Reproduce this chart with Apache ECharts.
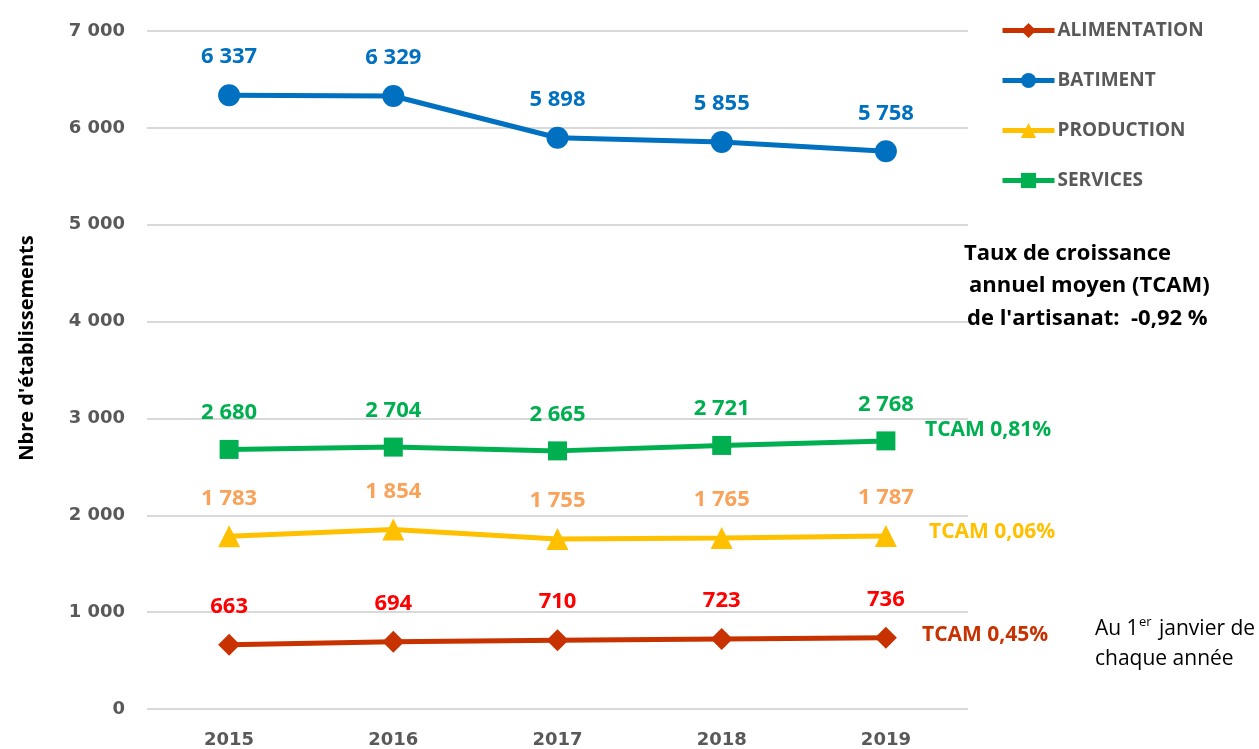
<!DOCTYPE html>
<html><head><meta charset="utf-8">
<script src="https://cdn.jsdelivr.net/npm/echarts@6/dist/echarts.min.js"></script>
<style>html,body{margin:0;padding:0;background:#fff}#c{width:1259px;height:749px}</style>
</head><body><div id="c"></div>
<script>
const years = ['2015','2016','2017','2018','2019'];
const alimentation = [663, 694, 710, 723, 736];
const batiment = [6337, 6329, 5898, 5855, 5758];
const production = [1783, 1854, 1755, 1765, 1787];
const services = [2680, 2704, 2665, 2721, 2768];
const seriesNames = ['ALIMENTATION','BATIMENT','PRODUCTION','SERVICES'];
const yTicks = [0,1000,2000,3000,4000,5000,6000,7000];

const FONT = '"Open Sans", sans-serif';
const AXF = '"DejaVu Sans", sans-serif';
const fmt = v => { const s = String(v); return s.length > 3 ? s.slice(0, s.length-3) + ' ' + s.slice(-3) : s; };

function mk(name, data, color, labelColor, symbol, size) {
  return {
    name, type:'line', data, symbol, symbolSize:size,
    lineStyle:{color, width:5}, itemStyle:{color},
    label:{show:true, position:'top', distance:16, color:labelColor, fontFamily:FONT, fontWeight:'bold', fontSize:22, formatter:p=>fmt(p.value)},
    z: 3
  };
}

const chart = echarts.init(document.getElementById('c'), null, {renderer:'canvas'});
chart.setOption({
  animation:false,
  grid:{left:147, right:291, top:31, bottom:37},
  legend:{
    orient:'vertical', left:1000, top:21, padding:0, itemGap:31, itemWidth:52, itemHeight:19,
    data:seriesNames,
    lineStyle:{width:5},
    textStyle:{color:'#595959', fontFamily:FONT, fontWeight:'bold', fontSize:19, padding:[0,0,0,-2]}
  },
  xAxis:{
    type:'category', data:years, boundaryGap:true,
    axisLine:{show:false}, axisTick:{show:false},
    axisLabel:{color:'#595959', fontFamily:AXF, fontWeight:'bold', fontSize:18, margin:22}
  },
  yAxis:{
    type:'value', min:yTicks[0], max:yTicks[yTicks.length-1], interval:1000,
    axisLine:{show:false}, axisTick:{show:false},
    axisLabel:{color:'#595959', fontFamily:AXF, fontWeight:'bold', fontSize:18, margin:22, formatter:v=>fmt(v)},
    splitLine:{lineStyle:{color:'#d9d9d9', width:2}}
  },
  series:[
    mk('ALIMENTATION', alimentation, '#C83200', '#FF0000', 'diamond', 22),
    mk('BATIMENT', batiment, '#0070C0', '#0070C0', 'circle', 22),
    mk('PRODUCTION', production, '#FFC000', '#F9A25A', 'triangle', 22),
    mk('SERVICES', services, '#00B050', '#00B050', 'rect', 19)
  ],
  graphic:[
    {type:'text', x:27, y:348, rotation:Math.PI/2, style:{text:"Nbre d'établissements", fill:'#000', font:'bold 20px '+FONT, align:'center', verticalAlign:'middle'}},
    {type:'text', left:964, top:243, style:{text:"Taux de croissance", fill:'#000', font:'bold 22px '+FONT}},
    {type:'text', left:969, top:275, style:{text:"annuel moyen (TCAM)", fill:'#000', font:'bold 22px '+FONT}},
    {type:'text', left:967, top:308, style:{text:"de l'artisanat:  -0,92 %", fill:'#000', font:'bold 22px '+FONT}},
    {type:'text', left:925, top:420, style:{text:'TCAM 0,81%', fill:'#00B050', font:'bold 21px '+FONT}},
    {type:'text', left:929, top:522, style:{text:'TCAM 0,06%', fill:'#FFC000', font:'bold 21px '+FONT}},
    {type:'text', left:922, top:625, style:{text:'TCAM 0,45%', fill:'#C83200', font:'bold 21px '+FONT}},
    {type:'text', left:1095, top:619, style:{text:'Au 1', fill:'#000', font:'21px '+FONT}},
    {type:'text', left:1139, top:616, style:{text:'er', fill:'#000', font:'13px '+FONT}},
    {type:'text', left:1159, top:619, style:{text:'janvier de', fill:'#000', font:'21px '+FONT}},
    {type:'text', left:1095, top:649, style:{text:'chaque année', fill:'#000', font:'21px '+FONT}}
  ]
});
</script></body></html>
